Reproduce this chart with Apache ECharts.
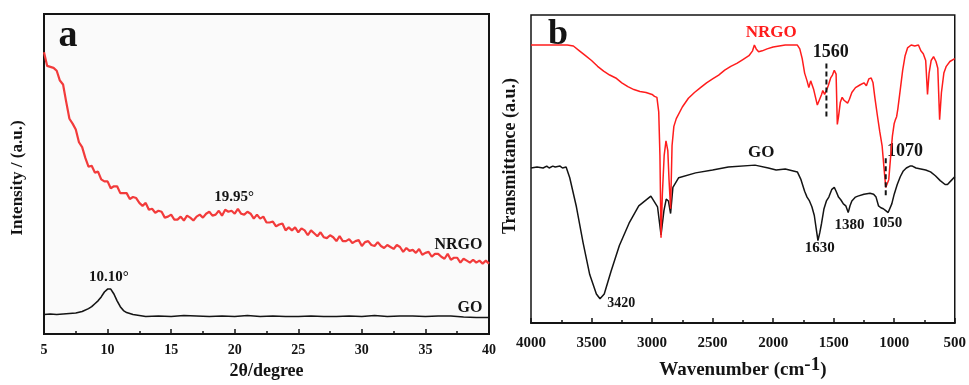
<!DOCTYPE html>
<html>
<head>
<meta charset="utf-8">
<script src="https://cdn.jsdelivr.net/npm/echarts@6/dist/echarts.min.js"></script>
<style>
  html, body { margin: 0; padding: 0; background: #ffffff; }
  #chart { width: 969px; height: 385px; }
</style>
</head>
<body>
<div id="chart"></div>
<script>
// ---------- (a) XRD patterns ----------
const xrdNrgoAngle = [
  5, 5.25, 5.5, 5.75, 6, 6.25, 6.5, 6.75, 7, 7.25, 7.5, 7.75, 8, 8.25, 8.5, 8.75,
  9, 9.25, 9.5, 9.75, 10, 10.25, 10.5, 10.75, 11, 11.25, 11.5, 11.75, 12, 12.25, 12.5, 12.75,
  13, 13.25, 13.5, 13.75, 14, 14.25, 14.5, 14.75, 15, 15.25, 15.5, 15.75, 16, 16.25, 16.5, 16.75,
  17, 17.25, 17.5, 17.75, 18, 18.25, 18.5, 18.75, 19, 19.25, 19.5, 19.75, 20, 20.25, 20.5, 20.75,
  21, 21.25, 21.5, 21.75, 22, 22.25, 22.5, 22.75, 23, 23.25, 23.5, 23.75, 24, 24.25, 24.5, 24.75,
  25, 25.25, 25.5, 25.75, 26, 26.25, 26.5, 26.75, 27, 27.25, 27.5, 27.75, 28, 28.25, 28.5, 28.75,
  29, 29.25, 29.5, 29.75, 30, 30.25, 30.5, 30.75, 31, 31.25, 31.5, 31.75, 32, 32.25, 32.5, 32.75,
  33, 33.25, 33.5, 33.75, 34, 34.25, 34.5, 34.75, 35, 35.25, 35.5, 35.75, 36, 36.25, 36.5, 36.75,
  37, 37.25, 37.5, 37.75, 38, 38.25, 38.5, 38.75, 39, 39.25, 39.5, 39.75, 40
];
const xrdNrgoIntensity = [
  288, 274, 273, 272, 269, 259, 255, 237, 220, 215, 209, 196, 191, 180, 171, 172,
  165, 166, 158, 156, 156, 149, 151, 151, 144, 144, 144, 138, 140, 139, 134, 131,
  134, 127, 128, 124, 126, 125, 119, 120, 122, 117, 117, 120, 116, 121, 119, 116,
  120, 122, 119, 123, 125, 121, 122, 126, 121, 127, 125, 126, 123, 128, 123, 122,
  125, 123, 118, 122, 118, 120, 114, 114, 115, 110, 112, 113, 106, 109, 106, 109,
  104, 108, 106, 101, 106, 103, 100, 104, 99, 98, 101, 99, 95, 100, 95, 95,
  97, 93, 95, 96, 90, 94, 95, 91, 90, 94, 90, 88, 91, 89, 87, 91,
  89, 84, 88, 85, 86, 83, 87, 81, 83, 84, 79, 82, 82, 79, 77, 82,
  76, 78, 78, 73, 77, 75, 73, 76, 73, 75, 72, 75, 72
];
const xrdGoAngle = [
  5, 5.5, 6, 6.5, 7, 7.5, 8, 8.5, 8.75, 9, 9.25, 9.5, 9.75, 10, 10.1, 10.25, 10.5, 10.75,
  11, 11.25, 11.5, 12, 12.5, 13, 14, 15, 16, 17, 18, 19, 20, 21, 22, 23, 24, 25, 26, 27,
  28, 29, 30, 31, 32, 33, 34, 35, 36, 37, 38, 39, 40
];
const xrdGoIntensity = [
  20, 20.5, 20, 20.5, 21, 21.5, 23, 26, 28, 31, 34, 38, 43, 46, 47, 46, 41, 34,
  28, 24, 22, 20, 19, 18, 18.5, 18, 19, 18.5, 18, 18.5, 18, 19, 18, 18.5, 18, 18, 18.5, 18,
  18, 18.5, 18, 19, 18, 18.5, 18.5, 18, 18.5, 18.5, 17.5, 17, 17
];
const xrdPeakLabels = ['19.95°', '10.10°'];
const xrdTicks = [5, 10, 15, 20, 25, 30, 35, 40];

// ---------- (b) FTIR spectra ----------
const ftirNrgoWave = [
  4000, 3900, 3800, 3700, 3650, 3600, 3550, 3500, 3450, 3400, 3350, 3300, 3250, 3200, 3150, 3100,
  3050, 3000, 2990, 2980, 2970, 2960, 2945, 2935, 2926, 2915, 2900, 2885, 2870, 2860, 2847, 2835,
  2820, 2800, 2750, 2700, 2650, 2600, 2550, 2500, 2450, 2400, 2350, 2300, 2250, 2200, 2170, 2155,
  2140, 2120, 2090, 2050, 2000, 1950, 1900, 1850, 1800, 1780, 1760, 1740, 1720, 1705, 1690, 1680,
  1665, 1650, 1635, 1620, 1600, 1590, 1575, 1560, 1545, 1525, 1510, 1495, 1480, 1470, 1460, 1445,
  1430, 1415, 1400, 1385, 1370, 1350, 1320, 1280, 1250, 1230, 1210, 1190, 1175, 1160, 1140, 1120,
  1100, 1085, 1070, 1060, 1045, 1030, 1015, 1000, 990, 980, 970, 950, 930, 910, 890, 860,
  830, 800, 780, 760, 740, 725, 712, 695, 675, 655, 640, 625, 610, 590, 570, 540, 500
];
const ftirNrgoTrans = [
  287, 287, 287, 287, 286, 281, 276, 271, 265, 260, 256, 253, 248, 244, 241, 239,
  238, 236, 237, 234, 236, 233, 218, 173, 88, 133, 173, 188, 178, 148, 118, 183,
  203, 211, 223, 232, 238, 243, 248, 252, 256, 261, 265, 268, 272, 276, 281, 287,
  283, 280, 281, 283, 285, 286, 287, 287, 287, 283, 273, 258, 250, 243, 250, 249,
  241, 233, 225, 227, 236, 240, 236, 240, 245, 253, 256, 261, 257, 205, 213, 228,
  233, 230, 232, 227, 231, 238, 243, 246, 248, 245, 252, 253, 248, 233, 215, 198,
  183, 161, 140, 138, 148, 171, 193, 206, 210, 213, 221, 241, 261, 276, 284, 287,
  286, 287, 281, 278, 271, 236, 258, 271, 275, 270, 263, 210, 238, 258, 265, 270, 273
];
const ftirGoWave = [
  4000, 3950, 3900, 3870, 3850, 3820, 3800, 3760, 3740, 3710, 3680, 3625, 3570, 3515, 3460, 3430,
  3395, 3340, 3270, 3190, 3110, 3010, 2955, 2926, 2902, 2883, 2865, 2847, 2828, 2780, 2640, 2500,
  2370, 2150, 2040, 1975, 1900, 1800, 1770, 1740, 1720, 1700, 1680, 1660, 1645, 1630, 1615, 1600,
  1580, 1560, 1540, 1515, 1495, 1480, 1460, 1440, 1420, 1400, 1380, 1365, 1350, 1320, 1300, 1250,
  1200, 1170, 1150, 1130, 1110, 1090, 1070, 1050, 1035, 1020, 1000, 975, 950, 925, 900, 870,
  850, 820, 780, 740, 700, 660, 620, 580, 560, 530, 500
];
const ftirGoTrans = [
  160, 161, 160, 162, 160, 162, 161, 162, 160, 161, 150, 120, 83, 50, 30, 25,
  30, 53, 80, 103, 121, 131, 120, 91, 116, 128, 126, 113, 140, 150, 155, 158,
  161, 163, 160, 158, 159, 156, 148, 136, 130, 126, 120, 111, 98, 85, 93, 103,
  118, 126, 130, 138, 140, 136, 130, 127, 123, 121, 114, 121, 126, 130, 131, 133,
  134, 133, 130, 121, 119, 118, 116, 114, 115, 123, 133, 143, 151, 157, 160, 162,
  162, 160, 159, 158, 156, 152, 147, 143, 143, 147, 151
];
const ftirGoPeaks = ['3420', '1630', '1380', '1050'];
const ftirNrgoPeaks = ['1560', '1070'];
const ftirTicks = [4000, 3500, 3000, 2500, 2000, 1500, 1000, 500];

// ---------- styling helpers ----------
const SERIF = '"Liberation Serif", "Times New Roman", serif';
const INK = '#141414';
const RED_A = '#f23b3b';
const RED_B = '#ff1c1c';

function pairs(xs, ys) { return xs.map((x, i) => [x, ys[i]]); }

function textPoint(coord, text, size, color) {
  return {
    value: coord,
    itemStyle: { opacity: 1, color: 'transparent' },
    label: {
      show: true, formatter: text, position: 'inside', opacity: 1,
      fontFamily: SERIF, fontWeight: 'bold', fontSize: size, color: color,
      textBorderWidth: 0, textBorderColor: 'transparent'
    }
  };
}

function bottomAxis(grid, opts) {
  return Object.assign({
    gridIndex: grid,
    type: 'value',
    axisLine: { show: true, onZero: false, lineStyle: { color: INK, width: 2 } },
    axisTick: { show: true, inside: true, length: 5, lineStyle: { color: INK, width: 1.5 } },
    minorTick: { show: true, splitNumber: 2, length: 3, lineStyle: { color: INK, width: 1.5 } },
    splitLine: { show: false },
    minorSplitLine: { show: false },
    axisLabel: { color: INK, fontFamily: SERIF, fontWeight: 'bold', fontSize: 14, margin: 9,
                 formatter: v => String(v) },
    nameLocation: 'middle',
    nameTextStyle: { color: INK, fontFamily: SERIF, fontWeight: 'bold', fontSize: 18 }
  }, opts);
}

function hiddenY(grid, max) {
  return {
    gridIndex: grid, type: 'value', min: 0, max: max,
    axisLine: { show: false }, axisTick: { show: false },
    axisLabel: { show: false }, splitLine: { show: false }
  };
}

const chart = echarts.init(document.getElementById('chart'), null, { renderer: 'canvas' });

chart.setOption({
  animation: false,
  backgroundColor: '#ffffff',
  grid: [
    { left: 44, top: 14, width: 445, height: 327, show: true,
      backgroundColor: '#fafafa', borderColor: INK, borderWidth: 2 },
    { left: 531, top: 15, width: 427, height: 318, show: true,
      backgroundColor: '#ffffff', borderColor: INK, borderWidth: 1.5 }
  ],
  xAxis: [
    bottomAxis(0, {
      min: xrdTicks[0], max: xrdTicks[xrdTicks.length - 1], interval: 5,
      name: '2θ/degree', nameGap: 24
    }),
    bottomAxis(1, {
      min: ftirTicks[ftirTicks.length - 1], max: ftirTicks[0], interval: 500, inverse: true,
      axisLabel: { color: INK, fontFamily: SERIF, fontWeight: 'bold', fontSize: 15, margin: 13,
                   formatter: v => String(v) },
      name: 'Wavenumber (cm{sup|-1})', nameGap: 33,
      nameTextStyle: {
        color: INK, fontFamily: SERIF, fontWeight: 'bold', fontSize: 19,
        rich: { sup: { fontFamily: SERIF, fontWeight: 'bold', fontSize: 19, color: INK,
                       verticalAlign: 'bottom', padding: [0, 0, 10, 0] } }
      }
    })
  ],
  yAxis: [hiddenY(0, 327), hiddenY(1, 318)],
  graphic: [
    { type: 'text', x: 18, y: 178, rotation: Math.PI / 2,
      style: { text: 'Intensity / (a.u.)', font: 'bold 17px ' + SERIF, fill: INK,
               align: 'center', verticalAlign: 'middle' } },
    { type: 'text', x: 510, y: 156, rotation: Math.PI / 2,
      style: { text: 'Transmittance (a.u.)', font: 'bold 18px ' + SERIF, fill: INK,
               align: 'center', verticalAlign: 'middle' } },
    { type: 'text', x: 68, y: 36,
      style: { text: 'a', font: 'bold 38px ' + SERIF, fill: INK,
               align: 'center', verticalAlign: 'middle' } },
    { type: 'text', x: 558, y: 35,
      style: { text: 'b', font: 'bold 36px ' + SERIF, fill: INK,
               align: 'center', verticalAlign: 'middle' } }
  ],
  series: [
    // (a) XRD
    { type: 'line', xAxisIndex: 0, yAxisIndex: 0, name: 'GO',
      data: pairs(xrdGoAngle, xrdGoIntensity), showSymbol: false,
      lineStyle: { color: INK, width: 1.6 } },
    { type: 'line', xAxisIndex: 0, yAxisIndex: 0, name: 'NRGO',
      data: pairs(xrdNrgoAngle, xrdNrgoIntensity), showSymbol: false,
      lineStyle: { color: RED_A, width: 2.2 } },
    { type: 'scatter', xAxisIndex: 0, yAxisIndex: 0, symbolSize: 0, silent: true,
      itemStyle: { opacity: 1 },
      data: [
        textPoint([19.95, 140], xrdPeakLabels[0], 15, INK),
        textPoint([10.1, 58], xrdPeakLabels[1], 15, INK),
        textPoint([37.6, 91], 'NRGO', 16, INK),
        textPoint([38.5, 27], 'GO', 16, INK)
      ] },

    // (b) FTIR
    { type: 'line', xAxisIndex: 1, yAxisIndex: 1, name: 'GO',
      data: pairs(ftirGoWave, ftirGoTrans), showSymbol: false,
      lineStyle: { color: INK, width: 1.5 } },
    { type: 'line', xAxisIndex: 1, yAxisIndex: 1, name: 'NRGO',
      data: pairs(ftirNrgoWave, ftirNrgoTrans), showSymbol: false,
      lineStyle: { color: RED_B, width: 1.5 } },
    // dashed markers for the NRGO bands
    { type: 'line', xAxisIndex: 1, yAxisIndex: 1, showSymbol: false, silent: true,
      data: [[Number(ftirNrgoPeaks[0]), 268], [Number(ftirNrgoPeaks[0]), 213]],
      lineStyle: { color: INK, width: 2, type: [5, 3] } },
    { type: 'line', xAxisIndex: 1, yAxisIndex: 1, showSymbol: false, silent: true,
      data: [[Number(ftirNrgoPeaks[1]), 170], [Number(ftirNrgoPeaks[1]), 130]],
      lineStyle: { color: INK, width: 2, type: [5, 3] } },
    { type: 'scatter', xAxisIndex: 1, yAxisIndex: 1, symbolSize: 0, silent: true,
      itemStyle: { opacity: 1 },
      data: [
        textPoint([2016, 300], 'NRGO', 17, RED_B),
        textPoint([2098, 176], 'GO', 17, INK),
        textPoint([1525, 279], ftirNrgoPeaks[0], 18, INK),
        textPoint([910, 177], ftirNrgoPeaks[1], 18, INK),
        textPoint([3254, 20], ftirGoPeaks[0], 14, INK),
        textPoint([1615, 77], ftirGoPeaks[1], 15, INK),
        textPoint([1369, 101], ftirGoPeaks[2], 15, INK),
        textPoint([1057, 103], ftirGoPeaks[3], 15, INK)
      ] }
  ]
});
</script>
</body>
</html>
